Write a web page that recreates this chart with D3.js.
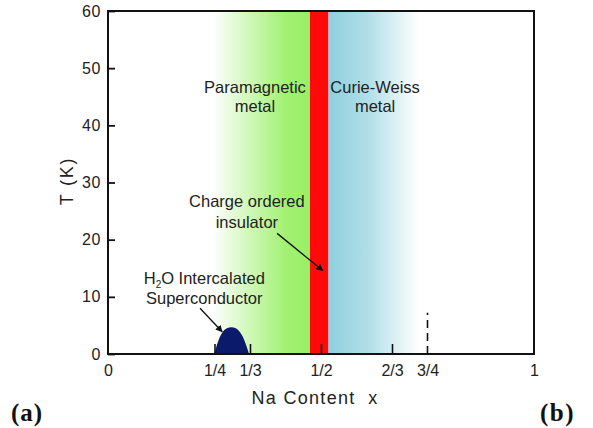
<!DOCTYPE html>
<html>
<head>
<meta charset="utf-8">
<script src="https://cdn.jsdelivr.net/npm/d3@7"></script>
<style>
  html, body { margin: 0; padding: 0; background: #fff; }
  svg { display: block; font-family: "Liberation Sans", Arial, sans-serif; }
</style>
</head>
<body>
<svg id="chart" width="593" height="428"></svg>
<script>
// Phase diagram of NaxCoO2: temperature vs sodium content

// Axis ticks
const xTickValues = [0, 1/4, 1/3, 1/2, 2/3, 3/4, 1];
const xTickLabels = ["0", "1/4", "1/3", "1/2", "2/3", "3/4", "1"];
const xTickLines  = [1/4, 1/3, 1/2, 2/3];
const yTickValues = [0, 10, 20, 30, 40, 50, 60];

// Phase regions (sodium content ranges)
const paramagneticRange = [0.245, 0.474];
const chargeOrderedRange = [0.474, 0.517];
const curieWeissRange   = [0.517, 0.73];

// Superconducting dome of the hydrated compound
const domeX = [0.250, 0.254, 0.260, 0.268, 0.278, 0.290, 0.300, 0.310, 0.319, 0.326, 0.331];
const domeT = [0.0,   1.2,   2.5,   3.7,   4.45,  4.7,   4.5,   3.8,   2.6,   1.2,   0.0];

// Dashed boundary at x = 3/4
const boundaryX = 3/4;
const boundaryT = [0, 7.2];

// Region labels: lines, centre x, baseline T
const labels = [
  { lines: ["Paramagnetic", "metal"], x: 0.345, t: [45.7, 42.4] },
  { lines: ["Curie-Weiss", "metal"],  x: 0.627, t: [45.7, 42.4] },
  { lines: ["Charge ordered", "insulator"], x: 0.326, t: [25.7, 22.0] },
];
const scLabel = { x: 0.226, t: [12.3, 8.8] };

// Arrows: [fromX, fromT] -> [toX, toT]
const arrows = [
  { from: [0.397, 21.1], to: [0.504, 14.6] },
  { from: [0.216, 8.0],  to: [0.268, 3.9] },
];

const svg = d3.select("#chart");
const x = d3.scaleLinear().domain([0, 1]).range([108, 534]);
const y = d3.scaleLinear().domain([0, 60]).range([354, 11]);

const defs = svg.append("defs");

const gGreen = defs.append("linearGradient").attr("id", "gGreen")
  .attr("x1", "0%").attr("x2", "100%").attr("y1", "0%").attr("y2", "0%");
gGreen.append("stop").attr("offset", "0%").attr("stop-color", "#ffffff");
gGreen.append("stop").attr("offset", "20%").attr("stop-color", "#e6fbd9");
gGreen.append("stop").attr("offset", "75%").attr("stop-color", "#a2f172");
gGreen.append("stop").attr("offset", "100%").attr("stop-color", "#99ef66");

const gBlue = defs.append("linearGradient").attr("id", "gBlue")
  .attr("x1", "0%").attr("x2", "100%").attr("y1", "0%").attr("y2", "0%");
gBlue.append("stop").attr("offset", "0%").attr("stop-color", "#8dd0de");
gBlue.append("stop").attr("offset", "45%").attr("stop-color", "#b2dfe8");
gBlue.append("stop").attr("offset", "100%").attr("stop-color", "#ffffff");

defs.append("marker").attr("id", "arrowHead")
  .attr("viewBox", "0 0 10 10").attr("refX", 9).attr("refY", 5)
  .attr("markerWidth", 7).attr("markerHeight", 7).attr("markerUnits", "userSpaceOnUse")
  .attr("orient", "auto")
  .append("path").attr("d", "M0,0 L10,5 L0,10 z").attr("fill", "#111");

// Phase bands
const bands = [
  { range: paramagneticRange, fill: "url(#gGreen)" },
  { range: curieWeissRange, fill: "url(#gBlue)" },
  { range: chargeOrderedRange, fill: "#ff0a0a" },
];
svg.append("g").selectAll("rect").data(bands).join("rect")
  .attr("x", d => x(d.range[0]))
  .attr("width", d => x(d.range[1]) - x(d.range[0]))
  .attr("y", y(60))
  .attr("height", y(0) - y(60))
  .attr("fill", d => d.fill);

// Superconducting dome
const domePts = domeX.map((v, i) => [v, domeT[i]]);
svg.append("path")
  .datum(domePts)
  .attr("d", d3.area().x(d => x(d[0])).y0(y(0)).y1(d => y(d[1])).curve(d3.curveMonotoneX))
  .attr("fill", "#0c1a6c");

// Dashed boundary
svg.append("line")
  .attr("x1", x(boundaryX)).attr("x2", x(boundaryX))
  .attr("y1", y(boundaryT[0])).attr("y2", y(boundaryT[1]))
  .attr("stroke", "#111").attr("stroke-width", 1.6)
  .attr("stroke-dasharray", "8,5");

// Axes
const xAxis = d3.axisBottom(x)
  .tickValues(xTickValues)
  .tickFormat((d, i) => xTickLabels[i])
  .tickSizeInner(-10).tickSizeOuter(0).tickPadding(11);
const gx = svg.append("g").attr("transform", `translate(0,${y(0)})`).call(xAxis);
gx.select(".domain").remove();
gx.selectAll(".tick line")
  .attr("stroke", "#111").attr("stroke-width", 1.6)
  .attr("display", d => xTickLines.some(v => Math.abs(v - d) < 1e-9) ? null : "none");
gx.selectAll(".tick text")
  .attr("font-size", 16).attr("fill", "#222")
  .attr("font-family", "'Liberation Sans', Arial, sans-serif");

const yAxis = d3.axisLeft(y)
  .tickValues(yTickValues)
  .tickSizeInner(-7).tickSizeOuter(0).tickPadding(7);
const gy = svg.append("g").attr("transform", `translate(${x(0)},0)`).call(yAxis);
gy.select(".domain").remove();
gy.selectAll(".tick line").attr("stroke", "#111").attr("stroke-width", 1.8);
gy.selectAll(".tick text")
  .attr("font-size", 16).attr("fill", "#222").attr("letter-spacing", 0.6)
  .attr("font-family", "'Liberation Sans', Arial, sans-serif");

// Frame
svg.append("rect")
  .attr("x", x(0)).attr("y", y(60))
  .attr("width", x(1) - x(0)).attr("height", y(0) - y(60))
  .attr("fill", "none").attr("stroke", "#111").attr("stroke-width", 2);

// Axis titles
svg.append("text")
  .attr("x", 315).attr("y", 404)
  .attr("text-anchor", "middle")
  .attr("font-size", 18).attr("fill", "#222").attr("letter-spacing", 1.3)
  .attr("xml:space", "preserve")
  .text("Na Content  x");

svg.append("text")
  .attr("transform", "translate(73,181) rotate(-90)")
  .attr("text-anchor", "middle")
  .attr("font-size", 18).attr("fill", "#222").attr("letter-spacing", 1.8)
  .text("T (K)");

// Region labels
labels.forEach(l => {
  l.lines.forEach((s, i) => {
    svg.append("text")
      .attr("x", x(l.x)).attr("y", y(l.t[i]))
      .attr("text-anchor", "middle")
      .attr("font-size", 16.5).attr("fill", "#222")
      .text(s);
  });
});

// Superconductor label with subscript
const sc1 = svg.append("text")
  .attr("x", x(scLabel.x)).attr("y", y(scLabel.t[0]))
  .attr("text-anchor", "middle")
  .attr("font-size", 16.5).attr("fill", "#222");
sc1.append("tspan").text("H");
sc1.append("tspan").attr("font-size", 10).attr("dy", 4).text("2");
sc1.append("tspan").attr("dy", -4).text("O Intercalated");
svg.append("text")
  .attr("x", x(scLabel.x)).attr("y", y(scLabel.t[1]))
  .attr("text-anchor", "middle")
  .attr("font-size", 16.5).attr("fill", "#222")
  .text("Superconductor");

// Arrows
svg.append("g").selectAll("line").data(arrows).join("line")
  .attr("x1", d => x(d.from[0])).attr("y1", d => y(d.from[1]))
  .attr("x2", d => x(d.to[0])).attr("y2", d => y(d.to[1]))
  .attr("stroke", "#111").attr("stroke-width", 1.3)
  .attr("marker-end", "url(#arrowHead)");

// Panel letters
svg.append("text").attr("x", 11).attr("y", 421)
  .attr("font-family", "'Liberation Serif', 'Times New Roman', serif")
  .attr("font-weight", "bold").attr("font-size", 25).attr("letter-spacing", 1)
  .attr("fill", "#111").text("(a)");
svg.append("text").attr("x", 540).attr("y", 421)
  .attr("font-family", "'Liberation Serif', 'Times New Roman', serif")
  .attr("font-weight", "bold").attr("font-size", 25).attr("letter-spacing", 1.5)
  .attr("fill", "#111").text("(b)");
</script>
</body>
</html>
